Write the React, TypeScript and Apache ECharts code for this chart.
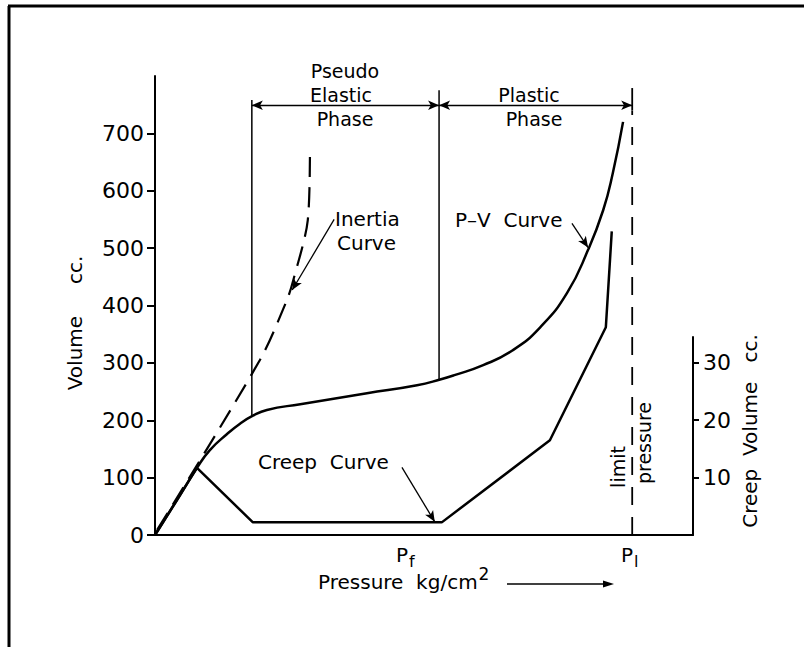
import React, { useEffect, useRef } from "react";
import * as echarts from "echarts";

// ---- data (pressure in relative units 0..100 along the x axis) ----
const volumeTicks = [0, 100, 200, 300, 400, 500, 600, 700];
const creepTicks = [10, 20, 30];

const pvPressure = [0, 4.1, 7.8, 10.2, 13.4, 15.8, 18.2, 20.8, 27.0, 39.4, 48.7, 53.0, 55.8, 61.0, 66.5, 71.6, 76.6, 80.5, 83.3, 85.1, 87.0];
const pvVolume = [0, 61, 117, 148, 176, 194, 208, 218, 228, 247, 261, 271, 279, 296, 322, 362, 422, 497, 566, 631, 720];

const inertiaPressure = [0.4, 19.5, 24.5, 25.7, 28.4, 28.8];
const inertiaVolume = [9, 305, 409, 444, 549, 665];

const creepPressure = [0, 7.8, 18.2, 53.3, 73.4, 83.8, 84.9];
const creepVolume = [0, 11.7, 2.2, 2.2, 16.5, 36.2, 52.9];

// phase boundaries: start of pseudo-elastic, end of pseudo-elastic (creep pressure), limit pressure
const phasePressure = [18.0, 52.8, 88.7];
const phaseBottom = [207, 271, 0];
const phaseTop = [758, 775, 779];
const phaseArrowLevel = 749;
const limitDashTop = 740;

// pointer arrows [fromP, fromV, toP, toV]
const inertiaPointer = [33.3, 550, 25.5, 427];
const pvPointer = [77.5, 543, 80.5, 501];
const creepPointer = [45.9, 118, 52.0, 23];

const FONT = "DejaVu Sans";

function pairs(xs: number[], ys: number[]) {
  return xs.map((x, i) => [x, ys[i]]);
}

export default function App() {
  const ref = useRef<HTMLDivElement>(null);
  useEffect(() => {
    if (!ref.current) return;
    const chart = echarts.init(ref.current, undefined, { renderer: "svg" });
    const black = "#000";
    const txt = (text: string, x: number, y: number, extra: any = {}) => ({
      type: "text",
      x,
      y,
      style: {
        text,
        fill: black,
        fontSize: extra.size || 20,
        fontFamily: FONT,
        lineHeight: extra.lineHeight || 20,
        textAlign: extra.align || "center",
        textVerticalAlign: "middle",
        rich: extra.rich,
      },
      rotation: extra.rotation || 0,
    });
    const subRich = {
      sub: { fontSize: 16, fontFamily: FONT, fill: black, padding: [12, 0, 0, 1] },
    };
    const supRich = {
      sup: { fontSize: 17, fontFamily: FONT, fill: black, padding: [0, 0, 16, 1] },
    };
    const arrowSym = { symbol: "arrow", symbolSize: [7, 11] };
    const noneSym = { symbol: "none" };

    const option: any = {
      animation: false,
      backgroundColor: "#fff",
      grid: [
        { left: 155, right: 111, top: 76, bottom: 112 },
        { left: 155, right: 111, top: 337, bottom: 112 },
      ],
      xAxis: [
        {
          type: "value",
          gridIndex: 0,
          min: 0,
          max: 100,
          axisLine: { show: true, onZero: false, lineStyle: { color: black, width: 2 } },
          axisTick: { show: false },
          axisLabel: { show: false },
          splitLine: { show: false },
        },
        { type: "value", gridIndex: 1, min: 0, max: 100, show: false },
      ],
      yAxis: [
        {
          type: "value",
          gridIndex: 0,
          min: 0,
          max: 800,
          interval: 100,
          axisLine: { show: true, onZero: false, lineStyle: { color: black, width: 2 } },
          axisTick: { show: true, length: 8, customValues: volumeTicks, lineStyle: { color: black, width: 2 } },
          axisLabel: {
            customValues: volumeTicks,
            margin: 11,
            fontSize: 22,
            fontFamily: FONT,
            color: black,
          },
          splitLine: { show: false },
        },
        {
          type: "value",
          gridIndex: 1,
          position: "right",
          min: 0,
          max: 34.5,
          interval: 10,
          axisLine: { show: true, onZero: false, lineStyle: { color: black, width: 2 } },
          axisTick: { show: true, length: 6, customValues: creepTicks, lineStyle: { color: black, width: 2 } },
          axisLabel: {
            customValues: creepTicks,
            margin: 10,
            fontSize: 22,
            fontFamily: FONT,
            color: black,
          },
          splitLine: { show: false },
        },
      ],
      series: [
        {
          name: "P-V Curve",
          type: "line",
          xAxisIndex: 0,
          yAxisIndex: 0,
          data: pairs(pvPressure, pvVolume),
          smooth: 0.5,
          showSymbol: false,
          lineStyle: { color: black, width: 2.5 },
          markLine: {
            silent: true,
            symbol: ["none", "arrow"],
            symbolSize: [7, 11],
            label: { show: false },
            lineStyle: { color: black, width: 1.3, type: "solid" },
            data: [
              [
                { coord: [inertiaPointer[0], inertiaPointer[1]], ...noneSym },
                { coord: [inertiaPointer[2], inertiaPointer[3]], ...arrowSym },
              ],
              [
                { coord: [pvPointer[0], pvPointer[1]], ...noneSym },
                { coord: [pvPointer[2], pvPointer[3]], ...arrowSym },
              ],
              [
                { coord: [creepPointer[0], creepPointer[1]], ...noneSym },
                { coord: [creepPointer[2], creepPointer[3]], ...arrowSym },
              ],
              [
                { coord: [phasePressure[0], phaseArrowLevel], ...arrowSym },
                { coord: [phasePressure[1], phaseArrowLevel], ...arrowSym },
              ],
              [
                { coord: [phasePressure[1], phaseArrowLevel], ...arrowSym },
                { coord: [phasePressure[2], phaseArrowLevel], ...arrowSym },
              ],
            ],
          },
        },
        {
          name: "Inertia Curve",
          type: "line",
          xAxisIndex: 0,
          yAxisIndex: 0,
          data: pairs(inertiaPressure, inertiaVolume),
          smooth: 0.3,
          showSymbol: false,
          lineStyle: { color: black, width: 2.2, type: [20, 10] },
        },
        {
          name: "Creep Curve",
          type: "line",
          xAxisIndex: 1,
          yAxisIndex: 1,
          clip: false,
          data: pairs(creepPressure, creepVolume),
          showSymbol: false,
          lineStyle: { color: black, width: 2.5 },
        },
        {
          name: "phase start",
          type: "line",
          xAxisIndex: 0,
          yAxisIndex: 0,
          data: [
            [phasePressure[0], phaseBottom[0]],
            [phasePressure[0], phaseTop[0]],
          ],
          showSymbol: false,
          lineStyle: { color: black, width: 1.5 },
        },
        {
          name: "creep pressure",
          type: "line",
          xAxisIndex: 0,
          yAxisIndex: 0,
          data: [
            [phasePressure[1], phaseBottom[1]],
            [phasePressure[1], phaseTop[1]],
          ],
          showSymbol: false,
          lineStyle: { color: black, width: 1.5 },
        },
        {
          name: "limit pressure",
          type: "line",
          xAxisIndex: 0,
          yAxisIndex: 0,
          data: [
            [phasePressure[2], phaseBottom[2]],
            [phasePressure[2], limitDashTop],
          ],
          showSymbol: false,
          lineStyle: { color: black, width: 1.8, type: [18, 12] },
        },
        {
          name: "limit pressure top",
          type: "line",
          xAxisIndex: 0,
          yAxisIndex: 0,
          data: [
            [phasePressure[2], limitDashTop],
            [phasePressure[2], phaseTop[2]],
          ],
          showSymbol: false,
          lineStyle: { color: black, width: 1.8 },
        },
      ],
      graphic: [
        // frame
        { type: "line", shape: { x1: 8, y1: 6, x2: 804, y2: 6 }, style: { stroke: black, lineWidth: 3 } },
        { type: "line", shape: { x1: 9, y1: 6, x2: 9, y2: 647 }, style: { stroke: black, lineWidth: 3 } },
        // phase labels
        txt("Pseudo", 345, 71, { size: 19, lineHeight: 19 }),
        txt("Elastic", 341, 95, { size: 19, lineHeight: 19 }),
        txt("Phase", 345, 119, { size: 19, lineHeight: 19 }),
        txt("Plastic", 529, 95, { size: 19, lineHeight: 19 }),
        txt("Phase", 534, 119, { size: 19, lineHeight: 19 }),
        // curve labels
        txt("Inertia", 335, 219, { align: "left" }),
        txt("Curve", 337, 243, { align: "left" }),
        txt("P\u2013V  Curve", 455, 220, { align: "left" }),
        txt("Creep  Curve", 258, 462, { align: "left" }),
        txt("limit", 618, 467, { rotation: Math.PI / 2, size: 19 }),
        txt("pressure", 644, 443, { rotation: Math.PI / 2, size: 19 }),
        // axis names
        txt("Volume     cc.", 75, 323, { rotation: Math.PI / 2 }),
        txt("Creep  Volume   cc.", 750, 431, { rotation: Math.PI / 2 }),
        // x axis marks
        txt("P{sub|f}", 396, 555, { align: "left", rich: subRich }),
        txt("P{sub|l}", 621, 555, { align: "left", rich: subRich }),
        txt("Pressure  kg/cm{sup|2}", 318, 582, { align: "left", rich: supRich }),
        {
          type: "line",
          shape: { x1: 507, y1: 584, x2: 606, y2: 584 },
          style: { stroke: black, lineWidth: 1.5 },
        },
        {
          type: "polygon",
          shape: { points: [[614, 584], [603, 580.5], [603, 587.5]] },
          style: { fill: black },
        },
      ],
    };
    chart.setOption(option);
    return () => chart.dispose();
  }, []);
  return (
    <div
      ref={ref}
      style={{ position: "absolute", left: 0, top: 0, width: 804, height: 647 }}
    />
  );
}
